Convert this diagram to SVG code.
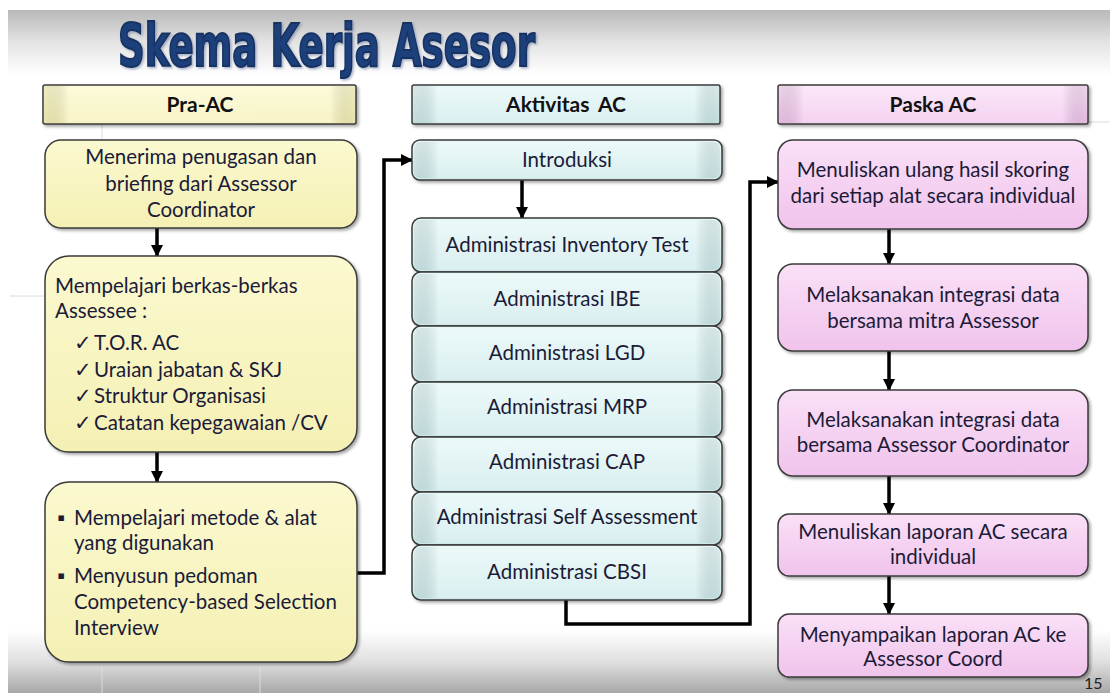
<svg xmlns="http://www.w3.org/2000/svg" width="1110" height="695" viewBox="0 0 1110 695">
<defs>
<linearGradient id="bgTop" x1="0" y1="0" x2="0" y2="1">
<stop offset="0" stop-color="#b8b8b8"/>
<stop offset="0.5" stop-color="#e4e4e4"/>
<stop offset="1" stop-color="#ffffff"/>
</linearGradient>
<linearGradient id="bgBot" x1="0" y1="0" x2="0" y2="1">
<stop offset="0" stop-color="#ffffff"/>
<stop offset="0.5" stop-color="#e0e0e0"/>
<stop offset="1" stop-color="#a8a8a8"/>
</linearGradient>
<linearGradient id="gY" x1="0" y1="0" x2="0" y2="1">
<stop offset="0" stop-color="#fbf9cf"/>
<stop offset="1" stop-color="#f4f0b4"/>
</linearGradient>
<linearGradient id="gC" x1="0" y1="0" x2="0" y2="1">
<stop offset="0" stop-color="#e6f7f7"/>
<stop offset="1" stop-color="#cde9ea"/>
</linearGradient>
<linearGradient id="gP" x1="0" y1="0" x2="0" y2="1">
<stop offset="0" stop-color="#fae0f7"/>
<stop offset="1" stop-color="#f0c3ec"/>
</linearGradient>
<linearGradient id="bevel" x1="0" y1="0" x2="1" y2="0">
<stop offset="0" stop-color="#000" stop-opacity="0.05"/>
<stop offset="0.08" stop-color="#fff" stop-opacity="0.25"/>
<stop offset="0.92" stop-color="#fff" stop-opacity="0.25"/>
<stop offset="1" stop-color="#000" stop-opacity="0.05"/>
</linearGradient>
<filter id="sh" x="-10%" y="-10%" width="125%" height="130%">
<feDropShadow dx="2" dy="2" stdDeviation="1.8" flood-color="#000" flood-opacity="0.35"/>
</filter>
<filter id="tsh" x="-5%" y="-10%" width="110%" height="130%">
<feDropShadow dx="1.5" dy="1.5" stdDeviation="1" flood-color="#6a7fa8" flood-opacity="0.6"/>
</filter>
<marker id="ah" viewBox="0 0 12 12" refX="11" refY="6" markerWidth="12" markerHeight="12" markerUnits="userSpaceOnUse" orient="auto">
<path d="M0,0 L12,6 L0,12 Z" fill="#000"/>
</marker>
</defs>
<style>
.t{font-family:Lato,"Open Sans","Liberation Sans",sans-serif;font-size:20.5px;fill:#1b1b38}
.c{text-anchor:middle}
.h{font-family:Lato,"Open Sans","Liberation Sans",sans-serif;font-size:21px;font-weight:bold;fill:#111;text-anchor:middle}
.box{stroke:#3a3a3a;stroke-width:1.5;filter:url(#sh)}
.bev{fill:url(#bevel);stroke:none}
.y{fill:url(#gY)}
.cy{fill:url(#gC)}
.p{fill:url(#gP)}
.con{fill:none;stroke:#000;stroke-width:3.5;marker-end:url(#ah)}
.grid{stroke:#dcdcdc;stroke-width:1}
</style>

<!-- background -->
<rect x="0" y="0" width="1110" height="695" fill="#fff"/>
<rect x="8" y="10" width="1102" height="683" fill="#fff"/>
<rect x="8" y="10" width="1102" height="65" fill="url(#bgTop)"/>
<rect x="8" y="630" width="1102" height="63" fill="url(#bgBot)"/>
<g id="grid">
<line class="grid" x1="102" y1="124" x2="102" y2="140"/>
<line class="grid" x1="102" y1="662" x2="102" y2="693"/>
<line class="grid" x1="260" y1="662" x2="260" y2="693"/>
<line class="grid" x1="10" y1="296" x2="45" y2="296"/>
<line class="grid" x1="1088" y1="122" x2="1110" y2="122"/>
</g>

<!-- title -->
<text id="title" x="118" y="66" font-family="'DejaVu Sans Condensed','DejaVu Sans',sans-serif" font-weight="bold" font-size="58" fill="#1f3f7c" stroke="#183260" stroke-width="2" textLength="417" lengthAdjust="spacingAndGlyphs" filter="url(#tsh)">Skema Kerja Asesor</text>

<!-- headers -->
<g id="hdr-pra">
<rect class="box y" x="43" y="85" width="313" height="39" rx="2"/>
<rect class="bev" x="44" y="86" width="311" height="37"/>
<text class="h" x="200" y="112">Pra-AC</text>
</g>
<g id="hdr-aktivitas">
<rect class="box cy" x="412" y="85" width="308" height="39" rx="2"/>
<rect class="bev" x="413" y="86" width="306" height="37"/>
<text class="h" x="566" y="112" word-spacing="4">Aktivitas AC</text>
</g>
<g id="hdr-paska">
<rect class="box p" x="778" y="85" width="310" height="39" rx="2"/>
<rect class="bev" x="779" y="86" width="308" height="37"/>
<text class="h" x="933" y="112">Paska AC</text>
</g>

<!-- connectors -->
<g id="connectors">
<line class="con" x1="157" y1="228" x2="157" y2="256"/>
<line class="con" x1="157" y1="452" x2="157" y2="482"/>
<polyline class="con" points="357,573 384,573 384,160 412,160"/>
<line class="con" x1="522" y1="180" x2="522" y2="218"/>
<polyline class="con" points="566,600 566,624 750,624 750,182 778,182"/>
<line class="con" x1="889" y1="229" x2="889" y2="264"/>
<line class="con" x1="889" y1="351" x2="889" y2="390"/>
<line class="con" x1="889" y1="476" x2="889" y2="514"/>
<line class="con" x1="889" y1="576" x2="889" y2="614"/>
</g>

<!-- Pra-AC nodes -->
<g id="pra1">
<rect class="box y" x="45" y="140" width="312" height="88" rx="16"/>
<text class="t c" x="201" y="164">Menerima penugasan dan</text>
<text class="t c" x="201" y="191">briefing dari Assessor</text>
<text class="t c" x="201" y="217">Coordinator</text>
</g>
<g id="pra2">
<rect class="box y" x="45" y="256" width="312" height="196" rx="24"/>
<text class="t" x="55" y="293">Mempelajari berkas-berkas</text>
<text class="t" x="55" y="318">Assessee :</text>
<text class="t" x="74" y="350">✓</text>
<text class="t" x="94" y="350">T.O.R. AC</text>
<text class="t" x="74" y="377">✓</text>
<text class="t" x="94" y="377">Uraian jabatan &amp; SKJ</text>
<text class="t" x="74" y="403">✓</text>
<text class="t" x="94" y="403">Struktur Organisasi</text>
<text class="t" x="74" y="430">✓</text>
<text class="t" x="94" y="430">Catatan kepegawaian /CV</text>
</g>
<g id="pra3">
<rect class="box y" x="45" y="482" width="312" height="180" rx="24"/>
<text class="t" x="57" y="525">▪</text>
<text class="t" x="74" y="525">Mempelajari metode &amp; alat</text>
<text class="t" x="74" y="550">yang digunakan</text>
<text class="t" x="57" y="583">▪</text>
<text class="t" x="74" y="583">Menyusun pedoman</text>
<text class="t" x="74" y="609">Competency-based Selection</text>
<text class="t" x="74" y="635">Interview</text>
</g>

<!-- Aktivitas AC nodes -->
<g id="introduksi">
<rect class="box cy" x="412" y="140" width="310" height="40" rx="8"/>
<rect class="bev" x="414" y="142" width="306" height="36" rx="6"/>
<text class="t c" x="567" y="167">Introduksi</text>
</g>
<g id="adm-inventory">
<rect class="box cy" x="412" y="218" width="310" height="54" rx="9"/>
<rect class="bev" x="414" y="220" width="306" height="50" rx="7"/>
<text class="t c" x="567" y="252">Administrasi Inventory Test</text>
</g>
<g id="adm-ibe">
<rect class="box cy" x="412" y="272" width="310" height="54" rx="9"/>
<rect class="bev" x="414" y="274" width="306" height="50" rx="7"/>
<text class="t c" x="567" y="306">Administrasi IBE</text>
</g>
<g id="adm-lgd">
<rect class="box cy" x="412" y="326" width="310" height="56" rx="9"/>
<rect class="bev" x="414" y="328" width="306" height="52" rx="7"/>
<text class="t c" x="567" y="360">Administrasi LGD</text>
</g>
<g id="adm-mrp">
<rect class="box cy" x="412" y="382" width="310" height="55" rx="9"/>
<rect class="bev" x="414" y="384" width="306" height="51" rx="7"/>
<text class="t c" x="567" y="414">Administrasi MRP</text>
</g>
<g id="adm-cap">
<rect class="box cy" x="412" y="437" width="310" height="55" rx="9"/>
<rect class="bev" x="414" y="439" width="306" height="51" rx="7"/>
<text class="t c" x="567" y="469">Administrasi CAP</text>
</g>
<g id="adm-self">
<rect class="box cy" x="412" y="492" width="310" height="53" rx="9"/>
<rect class="bev" x="414" y="494" width="306" height="49" rx="7"/>
<text class="t c" x="567" y="524">Administrasi Self Assessment</text>
</g>
<g id="adm-cbsi">
<rect class="box cy" x="412" y="545" width="310" height="55" rx="9"/>
<rect class="bev" x="414" y="547" width="306" height="51" rx="7"/>
<text class="t c" x="567" y="579">Administrasi CBSI</text>
</g>

<!-- Paska AC nodes -->
<g id="paska1">
<rect class="box p" x="778" y="140" width="310" height="89" rx="15"/>
<text class="t c" x="933" y="177">Menuliskan ulang hasil skoring</text>
<text class="t c" x="933" y="203">dari setiap alat secara individual</text>
</g>
<g id="paska2">
<rect class="box p" x="778" y="264" width="310" height="87" rx="15"/>
<text class="t c" x="933" y="302">Melaksanakan integrasi data</text>
<text class="t c" x="933" y="328">bersama mitra Assessor</text>
</g>
<g id="paska3">
<rect class="box p" x="778" y="390" width="310" height="86" rx="15"/>
<text class="t c" x="933" y="427">Melaksanakan integrasi data</text>
<text class="t c" x="933" y="452">bersama Assessor Coordinator</text>
</g>
<g id="paska4">
<rect class="box p" x="778" y="514" width="310" height="62" rx="11"/>
<text class="t c" x="933" y="539">Menuliskan laporan AC secara</text>
<text class="t c" x="933" y="564">individual</text>
</g>
<g id="paska5">
<rect class="box p" x="778" y="614" width="310" height="63" rx="11"/>
<text class="t c" x="933" y="642">Menyampaikan laporan AC ke</text>
<text class="t c" x="933" y="666">Assessor Coord</text>
</g>

<text id="page" x="1084" y="689" font-family="Lato,'Liberation Sans',sans-serif" font-size="16" fill="#222">15</text>
</svg>
